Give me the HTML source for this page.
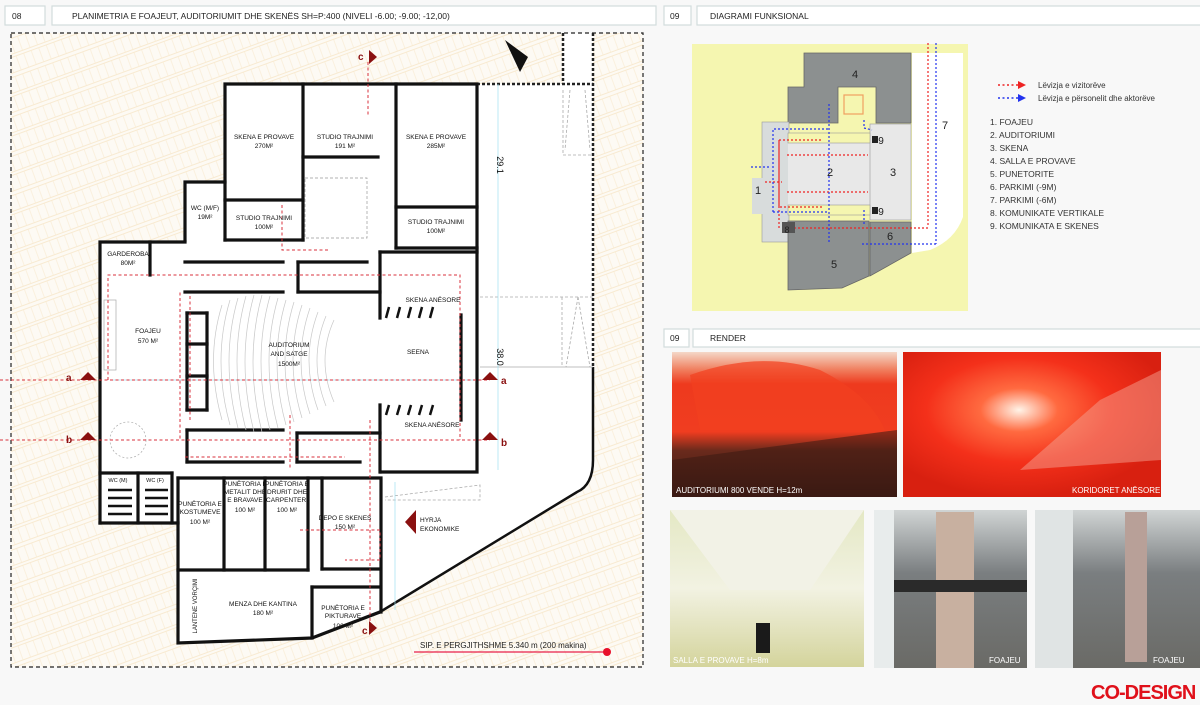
<!DOCTYPE html>
<html><head><meta charset="utf-8"><style>
html,body{margin:0;padding:0;background:#f8f8f8;}
svg{display:block;font-family:"Liberation Sans",sans-serif;}
</style></head><body>
<svg width="1200" height="705" viewBox="0 0 1200 705" xmlns="http://www.w3.org/2000/svg">
<defs>
<pattern id="hatch" width="8" height="37" patternUnits="userSpaceOnUse" patternTransform="rotate(-20)">
<rect width="8" height="37" fill="#fdfaf4"/>
<line x1="0" y1="3" x2="8" y2="3" stroke="#f6e4c2" stroke-width="0.7"/>
<line x1="0" y1="18" x2="8" y2="18" stroke="#f6e4c2" stroke-width="0.7"/>
<line x1="0" y1="21" x2="8" y2="21" stroke="#f6e4c2" stroke-width="0.7"/>
<line x1="0" y1="36" x2="8" y2="36" stroke="#f6e4c2" stroke-width="0.7"/>
<line x1="4" y1="3" x2="4" y2="18" stroke="#f8ead0" stroke-width="0.6"/>
<line x1="4" y1="21" x2="4" y2="36" stroke="#f8ead0" stroke-width="0.6"/>
</pattern>
<linearGradient id="p1" x1="0" y1="0" x2="0" y2="1">
<stop offset="0" stop-color="#f4d8c8"/><stop offset="0.12" stop-color="#f08060"/><stop offset="0.22" stop-color="#ee3a1e"/><stop offset="0.55" stop-color="#f03d20"/><stop offset="0.68" stop-color="#6a2a1c"/><stop offset="1" stop-color="#3a1a14"/></linearGradient>
<radialGradient id="p2" cx="0.45" cy="0.4" r="0.6">
<stop offset="0" stop-color="#fff4e8"/><stop offset="0.25" stop-color="#ff6a40"/><stop offset="0.6" stop-color="#f4301a"/><stop offset="1" stop-color="#d82010"/></radialGradient>
<linearGradient id="p3" x1="0" y1="0" x2="0" y2="1">
<stop offset="0" stop-color="#e4e8c4"/><stop offset="0.5" stop-color="#f2f2e2"/><stop offset="1" stop-color="#d4d49c"/></linearGradient>
<linearGradient id="p4" x1="0" y1="0" x2="0" y2="1">
<stop offset="0" stop-color="#d0d4d4"/><stop offset="0.4" stop-color="#7a7e80"/><stop offset="1" stop-color="#6a6a66"/></linearGradient>
</defs>

<!-- headers -->
<g fill="#fff" stroke="#d2dcdc" stroke-width="1.2">
<rect x="5" y="6" width="40" height="19"/><rect x="52" y="6" width="604" height="19"/>
<rect x="664" y="6" width="27" height="19"/><rect x="697" y="6" width="510" height="19"/>
<rect x="664" y="329" width="25" height="18"/><rect x="693" y="329" width="512" height="18"/>
</g>
<g font-size="8.5" fill="#222">
<text x="12" y="19">08</text>
<text x="72" y="19">PLANIMETRIA E FOAJEUT, AUDITORIUMIT DHE SKENËS SH=P:400  (NIVELI -6.00; -9.00; -12,00)</text>
<text x="670" y="19">09</text>
<text x="710" y="19">DIAGRAMI FUNKSIONAL</text>
<text x="670" y="341">09</text>
<text x="710" y="341">RENDER</text>
</g>

<!-- site -->
<rect x="11" y="33" width="632" height="634" fill="url(#hatch)"/>
<path d="M100,242 L185,242 L185,182 L225,182 L225,84 L563,84 L563,33 L593,33 L593,460 Q593,485 577,492 L380,612 L312,638 L178,643 L178,523 L100,523 Z" fill="#fff"/>
<g fill="none" stroke="#222" stroke-dasharray="4,3" stroke-width="1.2">
<rect x="11" y="33" width="632" height="634"/>
</g>
<g stroke="#222" stroke-width="2.5" stroke-dasharray="3,2" fill="none">
<line x1="477" y1="84" x2="593" y2="84"/>
<line x1="593" y1="33" x2="593" y2="367"/>
<line x1="563" y1="33" x2="563" y2="84"/>
</g>
<path d="M593,367 L593,460 Q593,485 577,492 L380,612" fill="none" stroke="#111" stroke-width="2.5"/>
<g stroke="#aaa" stroke-width="0.8" fill="none" stroke-dasharray="3,2">
<line x1="480" y1="297" x2="593" y2="297"/><line x1="480" y1="367" x2="593" y2="367" stroke-dasharray="none"/>
<path d="M562,297 L562,367 M578,297 L590,367 M578,297 L566,367"/>
<path d="M563,90 L563,155 L593,155 M570,90 L565,150 M585,90 L590,150"/>
<path d="M385,497 L480,485 L480,500 L385,500"/>
</g>
<g stroke="#9fe0f0" stroke-width="0.7" fill="none">
<line x1="498" y1="84" x2="498" y2="470"/>
<line x1="395" y1="482" x2="395" y2="610"/>
<line x1="110" y1="380" x2="480" y2="380"/>
</g>

<!-- walls -->
<g stroke="#111" stroke-width="3.2" fill="none" stroke-linecap="square">
<path d="M225,240 L225,84 L477,84 L477,472 L381,472"/>
<line x1="303" y1="84" x2="303" y2="240"/>
<line x1="396" y1="84" x2="396" y2="248"/>
<line x1="303" y1="157" x2="378" y2="157"/>
<line x1="225" y1="200" x2="303" y2="200"/>
<line x1="225" y1="240" x2="303" y2="240"/>
<line x1="396" y1="207" x2="477" y2="207"/>
<line x1="396" y1="248" x2="477" y2="248"/>
<path d="M185,240 L185,182 L225,182"/>
<path d="M100,523 L100,242 L185,242"/>
<line x1="150" y1="242" x2="150" y2="275"/>
<line x1="185" y1="262" x2="283" y2="262"/>
<line x1="185" y1="292" x2="283" y2="292"/>
<line x1="298" y1="262" x2="367" y2="262"/>
<line x1="298" y1="292" x2="380" y2="292"/>
<line x1="298" y1="262" x2="298" y2="292"/>
<line x1="380" y1="252" x2="380" y2="318"/>
<line x1="380" y1="252" x2="477" y2="252"/>
<line x1="187" y1="313" x2="187" y2="410"/>
<line x1="207" y1="313" x2="207" y2="410"/>
<line x1="187" y1="313" x2="207" y2="313"/>
<line x1="187" y1="344" x2="207" y2="344"/>
<line x1="187" y1="376" x2="207" y2="376"/>
<line x1="187" y1="410" x2="207" y2="410"/>
<line x1="187" y1="430" x2="283" y2="430"/>
<line x1="187" y1="462" x2="283" y2="462"/>
<line x1="187" y1="430" x2="187" y2="462"/>
<line x1="297" y1="433" x2="380" y2="433"/>
<line x1="297" y1="433" x2="297" y2="462"/>
<line x1="297" y1="462" x2="360" y2="462"/>
<line x1="380" y1="405" x2="380" y2="472"/>
<line x1="100" y1="473" x2="172" y2="473"/>
<line x1="100" y1="523" x2="178" y2="523"/>
<line x1="138" y1="473" x2="138" y2="523"/>
<line x1="172" y1="473" x2="172" y2="523"/>
<path d="M178,478 L381,478 L381,612"/>
<path d="M178,478 L178,643 L312,638 L380,612"/>
<line x1="224" y1="478" x2="224" y2="570"/>
<line x1="265" y1="478" x2="265" y2="570"/>
<line x1="308" y1="478" x2="308" y2="570"/>
<line x1="322" y1="478" x2="322" y2="569"/>
<line x1="322" y1="569" x2="380" y2="569"/>
<line x1="178" y1="570" x2="308" y2="570"/>
<line x1="312" y1="587" x2="312" y2="638"/>
<line x1="312" y1="587" x2="380" y2="587"/>
<line x1="461" y1="315" x2="461" y2="420"/>
</g>
<g stroke="#111" stroke-width="2.5">
<line x1="108" y1="490" x2="132" y2="490"/><line x1="108" y1="498" x2="132" y2="498"/><line x1="108" y1="506" x2="132" y2="506"/><line x1="108" y1="514" x2="132" y2="514"/>
<line x1="145" y1="490" x2="168" y2="490"/><line x1="145" y1="498" x2="168" y2="498"/><line x1="145" y1="506" x2="168" y2="506"/><line x1="145" y1="514" x2="168" y2="514"/>
<line x1="389" y1="307" x2="386" y2="318"/><line x1="400" y1="307" x2="397" y2="318"/><line x1="411" y1="307" x2="408" y2="318"/><line x1="422" y1="307" x2="419" y2="318"/><line x1="433" y1="307" x2="430" y2="318"/>
<line x1="389" y1="405" x2="386" y2="415"/><line x1="400" y1="405" x2="397" y2="415"/><line x1="411" y1="405" x2="408" y2="415"/><line x1="422" y1="405" x2="419" y2="415"/><line x1="433" y1="405" x2="430" y2="415"/>
</g>
<!-- seats -->
<g stroke="#c8c8c8" stroke-width="0.7" fill="none">
<path d="M222,305 Q205,360 222,420"/><path d="M230,300 Q212,360 230,425"/><path d="M238,298 Q220,360 238,428"/><path d="M246,296 Q228,360 246,430"/><path d="M254,295 Q236,360 254,432"/><path d="M262,295 Q244,360 262,432"/><path d="M270,296 Q252,360 270,430"/><path d="M278,298 Q260,360 278,428"/><path d="M286,300 Q268,360 286,425"/><path d="M294,302 Q276,360 294,422"/><path d="M302,305 Q284,360 302,418"/><path d="M310,308 Q292,360 310,414"/><path d="M318,312 Q300,360 318,410"/><path d="M326,316 Q308,360 326,406"/><path d="M334,320 Q316,360 334,402"/>
<rect x="305" y="178" width="62" height="60" stroke="#999" stroke-dasharray="3,2"/>
<circle cx="128" cy="440" r="18" stroke="#aaa" stroke-dasharray="2,2"/>
<rect x="104" y="300" width="12" height="70" stroke="#aaa"/>
</g>
<!-- red dashed circulation -->
<g stroke="#d8323c" stroke-width="1" stroke-dasharray="3,2.5" fill="none">
<line x1="368" y1="62" x2="368" y2="115"/>
<path d="M108,380 L108,275 L460,275 L460,440"/>
<path d="M110,440 L180,440 L180,290"/>
<path d="M190,420 L190,295"/>
<path d="M185,457 L345,457"/>
<line x1="0" y1="380" x2="490" y2="380"/>
<line x1="0" y1="440" x2="490" y2="440"/>
<path d="M370,420 L370,628"/>
<path d="M282,205 L282,250 L330,250"/>
<path d="M290,415 L290,470"/>
<path d="M300,530 L380,530 L380,560 L345,560"/>
</g>
<!-- section markers -->
<g fill="#8a1010">
<path d="M80,380 L88,372 L96,380 Z"/><path d="M482,380 L490,372 L498,380 Z"/>
<path d="M80,440 L88,432 L96,440 Z"/><path d="M482,440 L490,432 L498,440 Z"/>
<path d="M369,50 L377,57 L369,64 Z"/><path d="M369,621 L377,628 L369,635 Z"/>
<path d="M405,522 L416,510 L416,534 Z"/>
<path d="M505,40 L528,57 L520,72 Z" fill="#111"/>
</g>
<g fill="#8a1010" font-size="10" font-weight="bold">
<text x="66" y="381">a</text><text x="501" y="384">a</text>
<text x="66" y="443">b</text><text x="501" y="446">b</text>
<text x="358" y="60">c</text><text x="362" y="634">c</text>
</g>
<!-- labels -->
<g font-size="6.5" fill="#111" text-anchor="middle">
<text x="264" y="139">SKENA E PROVAVE</text><text x="264" y="148">270M²</text>
<text x="345" y="139">STUDIO TRAJNIMI</text><text x="345" y="148">191 M²</text>
<text x="436" y="139">SKENA E PROVAVE</text><text x="436" y="148">285M²</text>
<text x="205" y="210">WC (M/F)</text><text x="205" y="219">19M²</text>
<text x="264" y="220">STUDIO TRAJNIMI</text><text x="264" y="229">100M²</text>
<text x="436" y="224">STUDIO TRAJNIMI</text><text x="436" y="233">100M²</text>
<text x="128" y="256">GARDEROBA</text><text x="128" y="265">80M²</text>
<text x="148" y="333">FOAJEU</text><text x="148" y="343">570 M²</text>
<text x="289" y="347">AUDITORIUM</text><text x="289" y="356">AND SATGE</text><text x="289" y="366">1500M²</text>
<text x="418" y="354">SEENA</text>
<text x="433" y="302">SKENA ANËSORE</text>
<text x="432" y="427">SKENA ANËSORE</text>
<text x="200" y="506">PUNËTORIA E</text><text x="200" y="514">KOSTUMEVE</text><text x="200" y="524">100 M²</text>
<text x="245" y="486">PUNËTORIA E</text><text x="245" y="494">METALIT DHE</text><text x="245" y="502">E BRAVAVE</text><text x="245" y="512">100 M²</text>
<text x="287" y="486">PUNËTORIA E</text><text x="287" y="494">DRURIT DHE</text><text x="287" y="502">CARPENTERI</text><text x="287" y="512">100 M²</text>
<text x="345" y="520">DEPO E SKENES</text><text x="345" y="529">150 M²</text>
<text x="263" y="606">MENZA DHE KANTINA</text><text x="263" y="615">180 M²</text>
<text x="343" y="610">PUNËTORIA E</text><text x="343" y="618">PIKTURAVE</text><text x="343" y="628">100 M²</text>
<text x="118" y="482" font-size="5.5">WC (M)</text><text x="155" y="482" font-size="5.5">WC (F)</text>
<text x="0" y="0" transform="translate(497,165) rotate(90)" font-size="9">29.1</text>
<text x="0" y="0" transform="translate(497,357) rotate(90)" font-size="9">38.0</text>
<text x="0" y="0" transform="translate(197,606) rotate(-90)" font-size="6">LANTENE VORÇIMI</text>
</g>
<g font-size="6.5" fill="#111"><text x="420" y="522">HYRJA</text><text x="420" y="531">EKONOMIKE</text></g>
<text x="420" y="648" font-size="8" fill="#222">SIP. E PERGJITHSHME  5.340 m  (200 makina)</text>
<line x1="414" y1="652" x2="607" y2="652" stroke="#e8204a" stroke-width="1.2"/>
<circle cx="607" cy="652" r="4" fill="#e8102a"/>

<!-- diagram -->
<rect x="692" y="44" width="276" height="267" fill="#f5f6b0"/>
<path d="M912,53 L963,53 L963,217 Q955,240 930,250 L912,253 Z" fill="#fff"/>
<path d="M804,53 L911,53 L911,123 L876,123 L876,87 L838,87 L838,123 L788,123 L788,87 L804,87 Z" fill="#8c9090" stroke="#666" stroke-width="0.8"/>
<rect x="762" y="122" width="27" height="120" fill="#d8dcdc" stroke="#999" stroke-width="0.6"/>
<rect x="752" y="178" width="12" height="36" fill="#d8dcdc"/>
<rect x="788" y="143" width="82" height="62" fill="#e8e8e8"/>
<rect x="870" y="124" width="41" height="96" fill="#e8e8e8" stroke="#999" stroke-width="0.6"/>
<rect x="788" y="133" width="82" height="10" fill="#f5f6b0" stroke="#999" stroke-width="0.6"/>
<rect x="788" y="205" width="82" height="10" fill="#f5f6b0" stroke="#999" stroke-width="0.6"/>
<path d="M788,221 L869,221 L869,276 L842,288 L788,290 Z" fill="#8c9090" stroke="#666" stroke-width="0.8"/>
<path d="M870,222 L911,222 L911,253 L870,276 Z" fill="#8c9090" stroke="#666" stroke-width="0.8"/>
<rect x="844" y="95" width="19" height="19" fill="none" stroke="#f0a060" stroke-width="1.2"/>
<rect x="782" y="222" width="13" height="11" fill="#555"/>
<rect x="872" y="136" width="6" height="7" fill="#222"/><rect x="872" y="207" width="6" height="7" fill="#222"/>
<g stroke="#ee2222" stroke-width="1.2" stroke-dasharray="2,2" fill="none">
<line x1="928" y1="43" x2="928" y2="225"/><path d="M928,228 L795,228"/>
<path d="M779,228 L779,140 L822,140"/><path d="M779,140 L779,207 L822,207"/>
<line x1="787" y1="155" x2="868" y2="155"/><line x1="787" y1="192" x2="868" y2="192"/>
<line x1="765" y1="182" x2="782" y2="182"/>
</g>
<g stroke="#2233ee" stroke-width="1.2" stroke-dasharray="2,2" fill="none">
<line x1="936" y1="43" x2="936" y2="244"/><path d="M936,244 L862,244"/>
<path d="M773,212 L773,129 L828,129"/><path d="M773,212 L828,212"/>
<line x1="829" y1="104" x2="829" y2="244"/>
<line x1="751" y1="167" x2="770" y2="167"/>
<path d="M864,120 L864,128 L872,130"/>
<line x1="864" y1="210" x2="864" y2="225"/>
</g>
<g font-size="11" fill="#222" text-anchor="middle">
<text x="855" y="78">4</text><text x="830" y="176">2</text><text x="893" y="176">3</text><text x="758" y="194">1</text>
<text x="834" y="268">5</text><text x="890" y="240">6</text><text x="945" y="129">7</text><text x="787" y="233" font-size="9">8</text>
<text x="881" y="144" font-size="10">9</text><text x="881" y="215" font-size="10">9</text>
</g>
<g stroke-width="1.5" stroke-dasharray="2,2.5"><line x1="998" y1="85" x2="1018" y2="85" stroke="#ee2222"/><line x1="998" y1="98" x2="1018" y2="98" stroke="#2233ee"/></g>
<path d="M1018,81 L1026,85 L1018,89 Z" fill="#ee2222"/><path d="M1018,94 L1026,98 L1018,102 Z" fill="#2233ee"/>
<g font-size="8" fill="#333">
<text x="1038" y="88">Lëvizja e vizitorëve</text>
<text x="1038" y="101">Lëvizja e përsonelit dhe aktorëve</text>
</g>
<g font-size="8.5" fill="#333">
<text x="990" y="125">1. FOAJEU</text><text x="990" y="138">2. AUDITORIUMI</text><text x="990" y="151">3. SKENA</text>
<text x="990" y="164">4. SALLA E PROVAVE</text><text x="990" y="177">5. PUNETORITE</text><text x="990" y="190">6. PARKIMI (-9M)</text>
<text x="990" y="203">7. PARKIMI (-6M)</text><text x="990" y="216">8. KOMUNIKATE VERTIKALE</text><text x="990" y="229">9. KOMUNIKATA E SKENES</text>
</g>

<!-- renders -->
<rect x="672" y="352" width="225" height="145" fill="url(#p1)"/>
<path d="M690,375 Q760,350 820,370 Q870,395 885,430 L700,430 Z" fill="#f24020" opacity="0.7"/>
<path d="M672,460 L897,430 L897,497 L672,497 Z" fill="#3a1a12" opacity="0.55"/>
<rect x="903" y="352" width="258" height="145" fill="url(#p2)"/>
<path d="M1020,470 L1100,400 L1161,370 L1161,460 Z" fill="#f4a090" opacity="0.5"/>
<rect x="670" y="510" width="194" height="157" fill="url(#p3)"/>
<path d="M670,510 L730,590 L810,590 L864,510 Z" fill="#f2f2e6"/>
<rect x="756" y="623" width="14" height="30" fill="#1a1a1a"/>
<rect x="874" y="510" width="153" height="158" fill="url(#p4)"/>
<rect x="936" y="512" width="38" height="156" fill="#c8b0a0"/>
<rect x="880" y="580" width="147" height="12" fill="#2a2a2a"/>
<rect x="874" y="510" width="20" height="158" fill="#e8ecec"/>
<rect x="1035" y="510" width="165" height="158" fill="url(#p4)"/>
<rect x="1035" y="510" width="38" height="158" fill="#e0e4e4"/>
<rect x="1125" y="512" width="22" height="150" fill="#b8a098"/>
<g font-size="8" fill="#fff">
<text x="676" y="493">AUDITORIUMI 800 VENDE H=12m</text>
<text x="1072" y="493">KORIDORET ANËSORE</text>
<text x="673" y="663">SALLA E PROVAVE H=8m</text>
<text x="989" y="663">FOAJEU</text>
<text x="1153" y="663">FOAJEU</text>
</g>
<text x="1091" y="699" font-size="20" font-weight="bold" fill="#e0101a" letter-spacing="-1">CO-DESIGN</text>
</svg>
</body></html>
